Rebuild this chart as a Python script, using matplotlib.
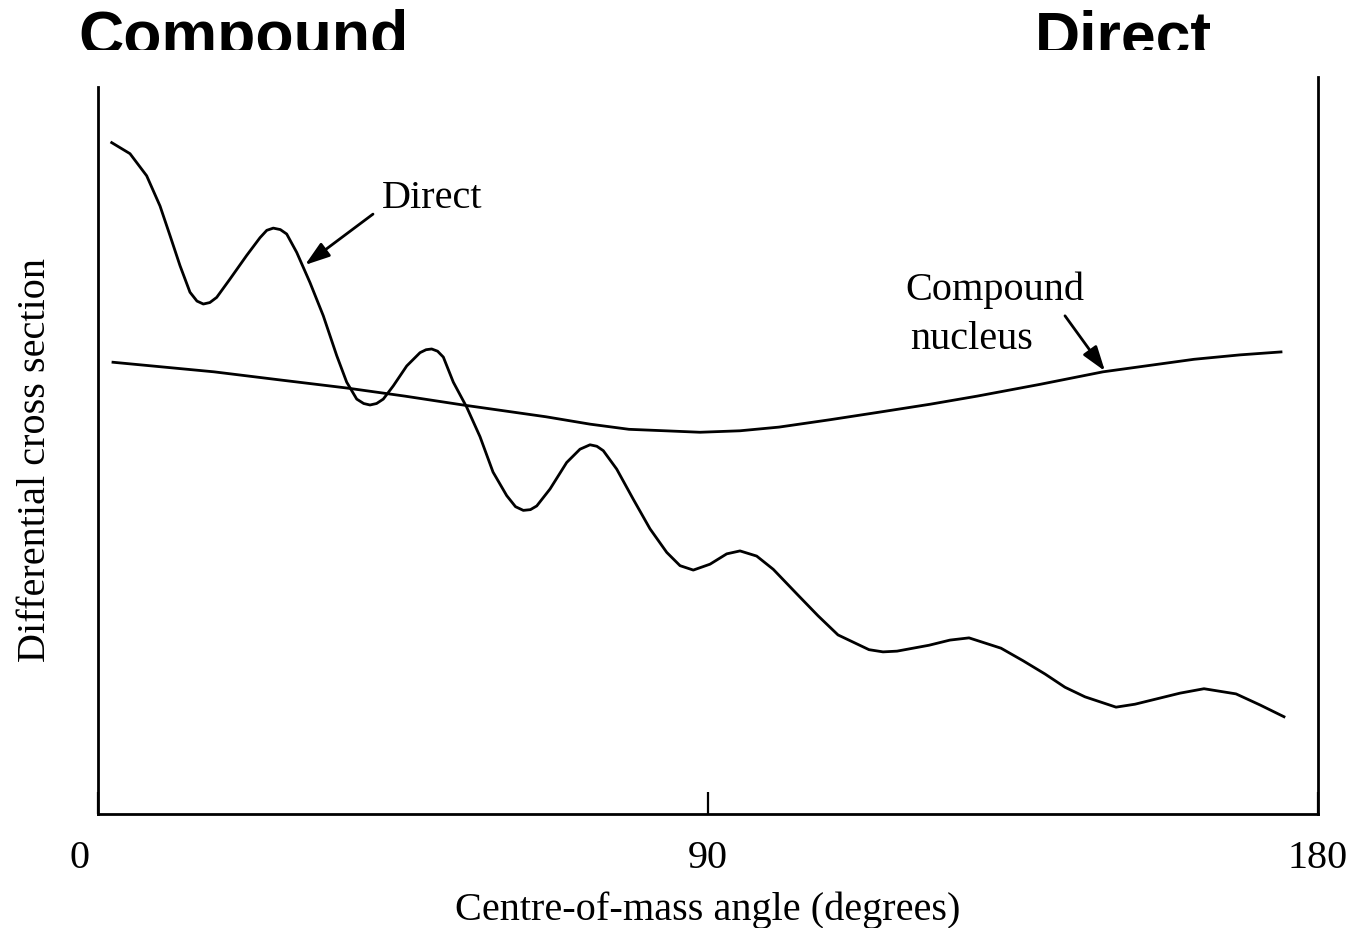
"""Direct vs compound-nucleus angular distributions (textbook sketch)."""

import matplotlib
matplotlib.use('Agg')
import matplotlib.pyplot as plt
from matplotlib.patches import Rectangle
from matplotlib.transforms import ScaledTranslation


# Values: angle in degrees, cross section in arbitrary units
direct_angle = [
    2.02, 4.72, 7.18, 9.15, 10.62, 12.10, 13.57, 14.60, 15.54, 16.50, 17.51, 19.48,
    21.94, 23.90, 24.90, 25.86, 26.90, 27.84, 29.32, 31.28, 33.24, 35.22, 36.69, 38.17,
    39.20, 40.13, 41.10, 42.09, 43.57, 45.55, 47.51, 48.40, 49.23, 50.10, 50.95, 52.42,
    54.40, 56.36, 58.28, 60.30, 61.60, 62.75, 63.80, 64.73, 66.69, 69.15, 71.11, 72.59,
    73.60, 74.55, 76.53, 78.98, 81.44, 83.91, 85.87, 87.83, 90.30, 92.76, 94.72, 97.18,
    99.63, 103.28, 106.23, 109.18, 113.75, 115.82, 117.89, 122.61, 125.70, 128.51,
    133.23, 136.48, 139.72, 142.67, 145.62, 150.20, 153.00, 156.10, 159.64, 163.18,
    167.90, 171.44, 174.98,
]
direct_xs = [
    9.11, 8.96, 8.66, 8.25, 7.85, 7.44, 7.08, 6.96, 6.92, 6.94, 7.01, 7.26,
    7.58, 7.82, 7.92, 7.95, 7.93, 7.87, 7.62, 7.21, 6.76, 6.22, 5.86, 5.63,
    5.57, 5.55, 5.57, 5.63, 5.81, 6.08, 6.26, 6.30, 6.31, 6.28, 6.20, 5.86,
    5.52, 5.12, 4.64, 4.32, 4.17, 4.12, 4.13, 4.18, 4.41, 4.77, 4.95, 5.01,
    4.99, 4.93, 4.68, 4.27, 3.87, 3.55, 3.37, 3.31, 3.39, 3.53, 3.57, 3.50,
    3.32, 2.97, 2.69, 2.43, 2.23, 2.20, 2.21, 2.29, 2.36, 2.39,
    2.25, 2.08, 1.90, 1.72, 1.59, 1.45, 1.49, 1.56, 1.64, 1.70,
    1.63, 1.48, 1.32,
]

compound_angle = [
    2.21, 17.11, 26.85, 36.74, 45.30, 53.85, 66.10, 72.59, 78.34, 83.66,
    88.82, 94.72, 100.48, 108.00, 115.08, 122.75, 129.69, 138.98, 148.28, 161.70,
    168.49, 174.54,
]
compound_xs = [
    6.13, 6.00, 5.89, 5.78, 5.67, 5.55, 5.39, 5.29, 5.22, 5.20,
    5.18, 5.20, 5.25, 5.35, 5.45, 5.56, 5.67, 5.83, 6.00, 6.17,
    6.23, 6.27,
]

tick_pos = [0, 90, 180]
tick_lbl = ['0', '90', '180']

SERIF = 'Liberation Serif'
SANS = 'Liberation Sans'
FS = 29

fig = plt.figure(figsize=(13.5, 9.29), dpi=100)
ax = fig.add_axes([0.0726, 0.1227, 0.9037, 0.7933])

ax.plot(direct_angle, direct_xs, color='black', lw=2.0, solid_joinstyle='round')
ax.plot(compound_angle, compound_xs, color='black', lw=2.0, solid_joinstyle='round')

ax.set_xlim(0, 180)
ax.set_ylim(0, 10)

# --- frame: open top, short left spine ---
ax.spines['top'].set_visible(False)
for side in ('left', 'right', 'bottom'):
    ax.spines[side].set_linewidth(2.0)
ax.spines['left'].set_bounds(0, 9.86)

ax.set_yticks([])
ax.set_xticks(tick_pos)
ax.set_xticklabels(tick_lbl, fontsize=FS, family=SERIF)
ax.tick_params(axis='x', direction='in', length=16, width=1.6, pad=18)
zero_lbl = ax.get_xticklabels()[0]
zero_lbl.set_transform(zero_lbl.get_transform()
                       + ScaledTranslation(-13 / 72, 0, fig.dpi_scale_trans))

ax.set_xlabel('Centre-of-mass angle (degrees)', fontsize=FS, family=SERIF)
ax.xaxis.set_label_coords(0.5, -0.104)
ax.set_ylabel('Differential cross section', fontsize=FS, family=SERIF)
ax.yaxis.set_label_coords(-0.036, 0.482)

# --- annotations ---
arrow = dict(arrowstyle='-|>,head_length=0.6,head_width=0.2', mutation_scale=25,
             lw=2.0, color='black', shrinkA=0, shrinkB=0)
ax.annotate('', xy=(30.54, 7.45), xytext=(40.57, 8.14), arrowprops=arrow)
ax.text(41.9, 8.24, 'Direct', fontsize=FS, family=SERIF, va='baseline', ha='left')

ax.annotate('', xy=(148.57, 6.01), xytext=(142.67, 6.76), arrowprops=arrow)
ax.text(119.07, 6.99, 'Compound', fontsize=FS, family=SERIF, va='baseline', ha='left')
ax.text(119.8, 6.32, 'nucleus', fontsize=FS, family=SERIF, va='baseline', ha='left')

# --- slide headings, bottom edge cut off as in the source ---
fig.text(78 / 1350, 1 - 55 / 929, 'Compound', fontsize=45, family=SANS,
         weight='bold', va='baseline', ha='left', zorder=3)
fig.text(1035 / 1350, 1 - 55 / 929, 'Direct', fontsize=45, family=SANS,
         weight='bold', va='baseline', ha='left', zorder=3)
fig.patches.append(Rectangle((0, 1 - 72 / 929), 1, 21 / 929, transform=fig.transFigure,
                             facecolor='white', edgecolor='none', zorder=4))

fig.savefig('out.png', dpi=100)
